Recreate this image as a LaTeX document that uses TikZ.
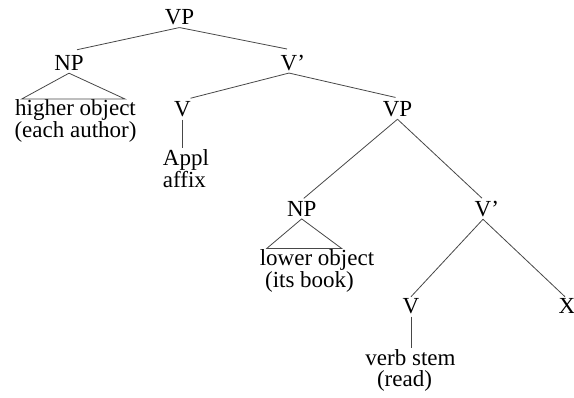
\documentclass[tikz,border=0pt]{standalone}
\usepackage{fontspec}
\setmainfont{Liberation Serif}
\begin{document}
\begin{tikzpicture}[x=1pt,y=1pt,
  lbl/.style={inner xsep=0pt, inner ysep=2pt, anchor=base,
              font=\fontsize{23}{21}\selectfont},
  second/.style={lbl, inner ysep=0pt},
  edge/.style={draw=black!72, line width=0.8pt}]
\useasboundingbox (0,0) rectangle (574,397);

% labels of the tree
\node[lbl] (vp0) at (179.5,372) {VP};
\node[lbl] (np1) at (69,326) {NP};
\node[lbl] (v1)  at (289,326.5) {V\rlap{’}};
\node[lbl] (ho1) at (75.5,281) {higher object};
\node[second] (ho2) at (75.5,259.5) {(each author)};
\node[lbl] (v2)  at (182.5,280) {V};
\node[lbl, anchor=base west] (ap1) at (162.7,231) {Appl};
\node[second, anchor=base west] (ap2) at (162.7,209.5) {affix};
\node[lbl] (vp2) at (397.5,280.3) {VP};
\node[lbl] (np3) at (301.7,180.3) {NP};
\node[lbl] (v3)  at (483,180.3) {V\rlap{’}};
\node[lbl] (lo1) at (317,131) {lower object};
\node[second] (lo2) at (309.5,109.5) {(its book)};
\node[lbl] (v4)  at (411,83) {V};
\node[lbl] (x4)  at (567,83) {X};
\node[lbl] (vs1) at (410.5,31) {verb stem};
\node[second] (vs2) at (404.5,10) {(read)};

% corners of the two triangles
\coordinate (t1l) at (21.7,298);
\coordinate (t1r) at (125,298);
\coordinate (t3l) at (266.7,148.5);
\coordinate (t3r) at (341.7,148.5);

% branches
\draw[edge] (vp0.south) -- ([xshift=8pt,yshift=4pt]np1.north);
\draw[edge] (vp0.south) -- ([xshift=-2pt,yshift=4pt]v1.north);
\draw[edge] (np1.south) -- (t1l) -- (t1r) -- cycle;
\draw[edge] (v1.south) -- ([xshift=8pt,yshift=1.5pt]v2.north);
\draw[edge] (v1.south) -- ([xshift=-2pt,yshift=2pt]vp2.north);
\draw[edge] (v2.south) -- (v2.south |- ap1.north);
\draw[edge] (vp2.south) -- ([xshift=2pt,yshift=1pt]np3.north);
\draw[edge] (vp2.south) -- ([xshift=-1pt,yshift=1pt]v3.north);
\draw[edge] (np3.south) -- (t3l) -- (t3r) -- cycle;
\draw[edge] (v3.south) -- (v4.north);
\draw[edge] (v3.south) -- ([xshift=-2pt]x4.north);
\draw[edge] (v4.south) -- (v4.south |- vs1.north);
\end{tikzpicture}
\end{document}
